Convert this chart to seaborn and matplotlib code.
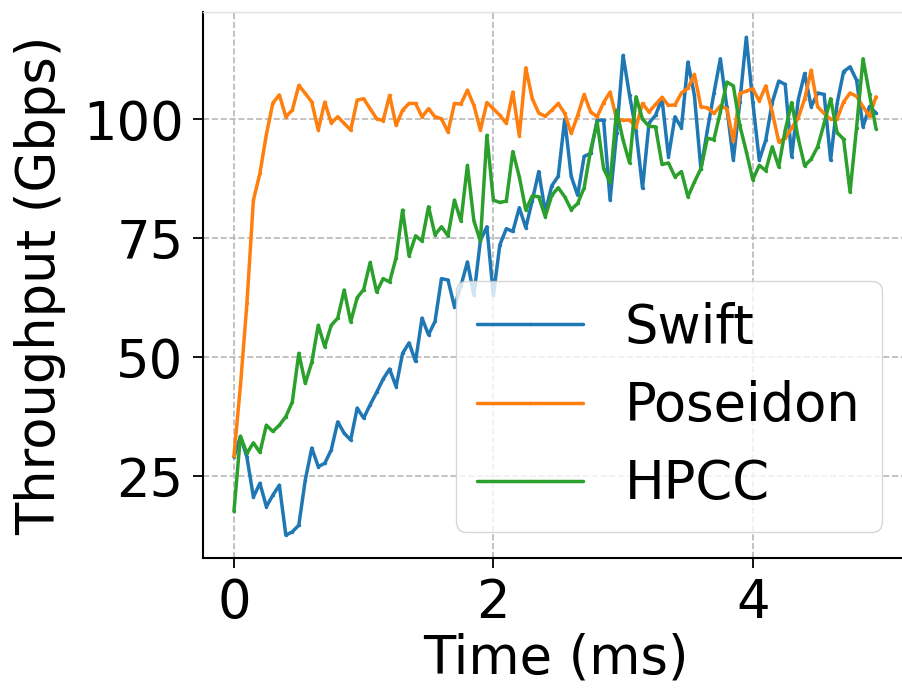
import numpy as np
import pandas as pd
import matplotlib
matplotlib.use("Agg")
import matplotlib.pyplot as plt
import seaborn as sns

step = 0.05
n_points = 100

swift = [29, 33.3, 29, 20.6, 23.5, 18.6, 21, 23.1, 12.6, 13.3,
         14.7, 24.2, 30.9, 27, 27.7, 30.5, 36.4, 34, 32.6, 39.3,
         37.2, 40, 42.6, 45.4, 47.5, 43.8, 50.8, 53, 49.1, 58.2,
         54.7, 57.5, 66.5, 66.2, 60.6, 65, 70, 63, 74.5, 77.4,
         63, 73.6, 77, 76.4, 81.4, 77.2, 82.9, 89, 80.5, 86,
         88, 100, 88, 84, 92.2, 92.8, 99.8, 99.8, 83, 97,
         113.4, 105, 97.5, 85.5, 99.2, 100.8, 104.3, 92.1, 100.5, 98.2,
         112, 105, 89.5, 97.7, 105.4, 112.7, 102.5, 91.4, 103.6, 117.2,
         103.6, 91.4, 95.6, 103.5, 108, 107.3, 92.1, 104, 109.6, 102.6,
         105.5, 105.2, 91.4, 103.3, 110, 111, 108.2, 98.4, 102.7, 101.3]

poseidon = [29.2, 44, 61.3, 83, 88.6, 96.8, 103.4, 105.1, 100.5, 101.9,
            107.1, 105.4, 103.6, 97.7, 103.6, 99.2, 100.5, 99.1, 97.7, 104,
            104.3, 102.2, 100.1, 99.7, 105, 98.7, 101.9, 103.3, 103.3, 100.5,
            102.2, 100.5, 100.1, 97.3, 103.3, 103.2, 106.1, 102.9, 97.7, 103.5,
            102.2, 100.8, 99.1, 105.7, 96.5, 110.8, 104.3, 101.3, 100.6, 101.9,
            103.3, 101.2, 97, 100.8, 105.2, 101.5, 100.5, 103.5, 105.7, 100,
            99.8, 99.8, 98.4, 103.3, 101.5, 103.1, 104.6, 102.9, 103, 105.5,
            106.5, 109.4, 102.6, 102.4, 101.2, 102.8, 102.2, 95.4, 105.4, 105.9,
            106.4, 103.8, 107, 101.5, 95.3, 96, 98.2, 100.2, 104.3, 110.3,
            102.6, 101.2, 100, 100.1, 103.6, 105.5, 104.8, 102.6, 100.6, 104.7]

hpcc = [17.6, 33.4, 29.8, 32, 30, 35.7, 34.4, 35.7, 37.5, 40.6,
        50.8, 44.5, 48.9, 56.7, 52.2, 56.7, 58.2, 64.1, 57.4, 62.5,
        64.2, 69.9, 63.7, 66.5, 65.8, 70.9, 80.9, 71.3, 75.5, 74.4,
        81.6, 75.7, 77.4, 75.5, 83, 78.6, 90.3, 78.6, 74.4, 96.6,
        83, 82.5, 82.8, 93.2, 87.9, 80.9, 83.9, 83.7, 79.5, 84,
        85.6, 83.7, 81, 82.3, 85.6, 93.5, 99.4, 89.6, 86.7, 101.9,
        95.6, 90.8, 104.7, 100, 98.5, 98.4, 90.5, 90.8, 87.9, 89,
        83.7, 86.8, 89.6, 96, 95.7, 101.5, 107.8, 107, 98.7, 93.2,
        87.3, 90.3, 89.2, 94.2, 90, 97.7, 103.5, 96, 90.2, 91.6,
        94.2, 99.1, 104.3, 97.2, 95.8, 84.7, 98.2, 112.7, 105.2, 98]

series_names = ["Swift", "Poseidon", "HPCC"]
colors = ["#1f77b4", "#ff7f0e", "#2ca02c"]
x_ticks = [0, 2, 4]
y_ticks = [25, 50, 75, 100]

time = np.arange(n_points) * step
frames = []
for name, vals in zip(series_names, [swift, poseidon, hpcc]):
    frames.append(pd.DataFrame({"Time": time, "Throughput": vals, "Protocol": name}))
df = pd.concat(frames, ignore_index=True)

sns.set_theme(style="ticks")
plt.rcParams["font.family"] = ["DejaVu Sans"]
plt.rcParams["text.color"] = "black"
plt.rcParams["axes.labelcolor"] = "black"
plt.rcParams["xtick.color"] = "black"
plt.rcParams["ytick.color"] = "black"
FS = 38

fig = plt.figure(figsize=(9.02, 6.91), dpi=100)
ax = fig.add_axes([0.225, 0.1925, 0.7817, 0.790])

sns.lineplot(data=df, x="Time", y="Throughput", hue="Protocol",
             hue_order=series_names, palette=colors, marker=".",
             markersize=5, markeredgewidth=0, linewidth=2.5, ax=ax)

ax.set_xlim(-0.239, 5.197)
ax.set_ylim(7.8, 122.5)
ax.set_xticks(x_ticks)
ax.set_yticks(y_ticks)
ax.grid(True, linestyle="--", color="#b8b8b8", linewidth=1.2)
ax.set_axisbelow(True)

ax.set_xlabel("Time (ms)", fontsize=FS, labelpad=2)
ax.set_ylabel("Throughput (Gbps)", fontsize=FS, labelpad=12)
ax.tick_params(axis="both", labelsize=FS, length=7, width=1.3, pad=7, color="black",
               labelcolor="black")

for s in ["left", "bottom"]:
    ax.spines[s].set_color("black")
    ax.spines[s].set_linewidth(1.5)
ax.spines["top"].set_color("#e0e0e0")
ax.spines["top"].set_linewidth(1.0)
ax.spines["right"].set_visible(False)

leg = ax.legend(loc="lower right", fontsize=FS, frameon=True, framealpha=0.8,
                edgecolor="0.8", fancybox=True)
for line in leg.get_lines():
    line.set_linewidth(2.5)
for t in leg.get_texts():
    t.set_color("black")

fig.savefig("out.png", dpi=100)
